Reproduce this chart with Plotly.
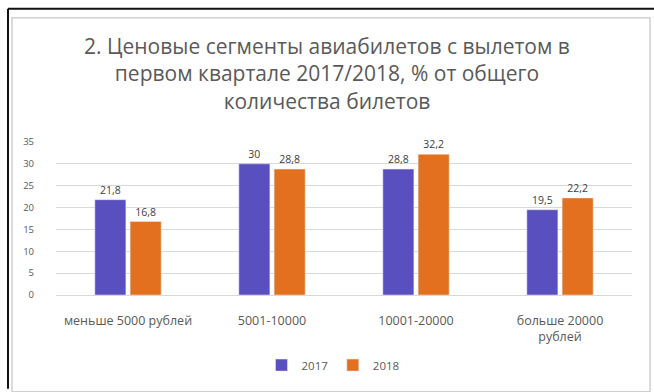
import plotly.graph_objects as go

categories = ["меньше 5000 рублей", "5001-10000", "10001-20000", "больше 20000<br>рублей"]
series_names = ["2017", "2018"]
values_2017 = [21.8, 30, 28.8, 19.5]
values_2018 = [16.8, 28.8, 32.2, 22.2]
y_ticks = [0, 5, 10, 15, 20, 25, 30, 35]
title_text = "2. Ценовые сегменты авиабилетов с вылетом в<br>первом квартале 2017/2018, % от общего<br>количества билетов"

colors = ["#5a4fbf", "#e2701e"]

W, H = 654, 392
L, R, T, B = 56, 22, 142, 95
pw, ph = W - L - R, H - T - B

def px(x):
    return (x - L) / pw

def py(y):
    return (H - B - y) / ph

fig = go.Figure()
for name, vals, col in zip(series_names, [values_2017, values_2018], colors):
    fig.add_trace(go.Bar(
        x=categories, y=vals, name=name, marker_color=col,
        text=vals, texttemplate="%{y}", textposition="outside",
        textfont=dict(size=10.5, color="#404040", family="Open Sans"),
        cliponaxis=False,
    ))

fig.update_layout(
    width=W, height=H,
    margin=dict(l=L, r=R, t=T, b=B),
    paper_bgcolor="white", plot_bgcolor="white",
    separators=", ",
    barmode="group", bargap=0.51, bargroupgap=0.12,
    title=dict(text=title_text, x=0.5, xref="container", xanchor="center",
               y=(H - 54) / H, yanchor="top",
               font=dict(size=21, color="#595959", family="Open Sans")),
    showlegend=True,
    legend=dict(orientation="h", x=px(333), xref="paper", xanchor="center",
                y=py(368), yanchor="middle",
                font=dict(size=11.5, color="#595959", family="Open Sans"),
                itemwidth=30, traceorder="normal"),
    yaxis=dict(range=[0, 35], tickvals=y_ticks, showgrid=True, gridcolor="#d9d9d9",
               gridwidth=1, zeroline=False, showline=False, ticks="",
               tickfont=dict(size=9.5, color="#595959", family="Open Sans"),
               ticklabelstandoff=21),
    xaxis=dict(showgrid=False, showline=True, linecolor="#d9d9d9", ticks="",
               tickfont=dict(size=12.5, color="#595959", family="Open Sans"),
               ticklabelstandoff=14),
    font=dict(family="Open Sans"),
)

shapes = [
    # outer black frame
    dict(type="line", xref="paper", yref="paper", x0=px(8), x1=px(654), y0=py(7), y1=py(7),
         line=dict(color="#111111", width=2)),
    dict(type="line", xref="paper", yref="paper", x0=px(8), x1=px(8), y0=py(7), y1=py(392),
         line=dict(color="#111111", width=2)),
    # inner light frame
    dict(type="rect", xref="paper", yref="paper", x0=px(12), x1=px(650), y0=py(16), y1=py(395),
         line=dict(color="#cfcfcf", width=1.5)),
]
fig.update_layout(shapes=shapes)

fig.write_html("out.html")
